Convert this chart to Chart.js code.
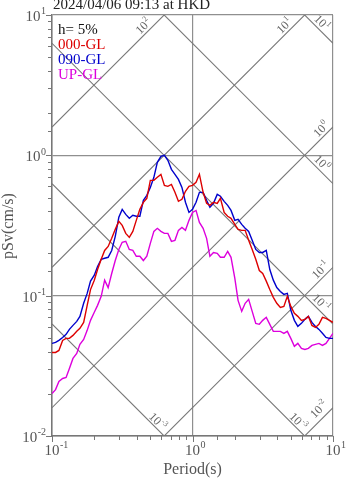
<!DOCTYPE html>
<html>
<head>
<meta charset="utf-8">
<title>pSv spectrum - HKD</title>
<script src="https://cdn.jsdelivr.net/npm/chart.js@4.4.1/dist/chart.umd.min.js"></script>
<style>
  html, body { margin: 0; padding: 0; background: #fff; }
  canvas { display: block; }
</style>
</head>
<body>
<canvas id="spec" width="347" height="478"></canvas>
<script>
const titleText = '2024/04/06 09:13 at HKD';
const dampingLabel = 'h= 5%';
const seriesNames = ['000-GL', '090-GL', 'UP-GL'];
const seriesColors = ['#dd0000', '#0000cc', '#dd00dd'];

// periods (s), 0.025-decade spacing
const periods = [
  0.1, 0.106, 0.112, 0.119, 0.126, 0.133, 0.141, 0.15, 0.158, 0.168,
  0.178, 0.188, 0.2, 0.211, 0.224, 0.237, 0.251, 0.266, 0.282, 0.299,
  0.316, 0.335, 0.355, 0.376, 0.398, 0.422, 0.447, 0.473, 0.501, 0.531,
  0.562, 0.596, 0.631, 0.668, 0.708, 0.75, 0.794, 0.841, 0.891, 0.944,
  1.0, 1.06, 1.12, 1.19, 1.26, 1.33, 1.41, 1.5, 1.58, 1.68,
  1.78, 1.88, 2.0, 2.11, 2.24, 2.37, 2.51, 2.66, 2.82, 2.99,
  3.16, 3.35, 3.55, 3.76, 3.98, 4.22, 4.47, 4.73, 5.01, 5.31,
  5.62, 5.96, 6.31, 6.68, 7.08, 7.5, 7.94, 8.41, 8.91, 9.44,
  10.0
];

// pseudo velocity response, cm/s
const sv000 = [
  0.0394, 0.0394, 0.0407, 0.0480, 0.0496, 0.0496, 0.0521, 0.0557, 0.0585, 0.0645,
  0.0853, 0.1105, 0.129, 0.1536, 0.1817, 0.210, 0.2243, 0.2561, 0.2969, 0.3384,
  0.317, 0.278, 0.2603, 0.2872, 0.344, 0.412, 0.4626, 0.494, 0.663, 0.663,
  0.697, 0.732, 0.611, 0.601, 0.621, 0.545, 0.470, 0.486, 0.554, 0.601,
  0.611, 0.642, 0.732, 0.545, 0.455, 0.440, 0.463, 0.455, 0.494, 0.392,
  0.368, 0.356, 0.322, 0.297, 0.292, 0.292, 0.248, 0.2135, 0.1817, 0.151,
  0.1438, 0.1269, 0.1105, 0.0973, 0.0882, 0.0825, 0.0839, 0.0989, 0.0839, 0.0748,
  0.0712, 0.0667, 0.0678, 0.0712, 0.0614, 0.0594, 0.0625, 0.0701, 0.0689, 0.0667,
  0.0645
];
const sv090 = [
  0.0457, 0.0464, 0.0480, 0.0504, 0.0530, 0.0575, 0.0614, 0.0656, 0.0712, 0.0882,
  0.1038, 0.1269, 0.140, 0.1613, 0.1817, 0.1847, 0.1877, 0.210, 0.2646, 0.3619,
  0.412, 0.3793, 0.356, 0.374, 0.368, 0.368, 0.478, 0.519, 0.591, 0.697,
  0.891, 0.984, 1.000, 0.921, 0.795, 0.732, 0.674, 0.591, 0.463, 0.392,
  0.412, 0.463, 0.545, 0.545, 0.478, 0.426, 0.455, 0.527, 0.511, 0.470,
  0.440, 0.405, 0.344, 0.350, 0.322, 0.302, 0.287, 0.248, 0.2135, 0.2032,
  0.2032, 0.210, 0.1536, 0.129, 0.1142, 0.1072, 0.1021, 0.1038, 0.0786, 0.0667,
  0.0604, 0.0635, 0.0678, 0.0712, 0.0645, 0.0604, 0.0575, 0.0539, 0.0504, 0.0496,
  0.0496
];
const svUp = [
  0.0201, 0.0214, 0.0245, 0.0257, 0.0261, 0.0303, 0.0357, 0.0387, 0.0450, 0.0488,
  0.0566, 0.0667, 0.0761, 0.0853, 0.0989, 0.129, 0.1142, 0.1438, 0.178, 0.2135,
  0.240, 0.244, 0.2135, 0.210, 0.1908, 0.1908, 0.178, 0.1908, 0.236, 0.2872,
  0.302, 0.2872, 0.278, 0.278, 0.244, 0.248, 0.292, 0.3068, 0.292, 0.344,
  0.392, 0.405, 0.333, 0.302, 0.256, 0.1908, 0.2032, 0.200, 0.1877, 0.1877,
  0.2066, 0.1877, 0.1333, 0.0926, 0.0773, 0.0882, 0.0941, 0.0773, 0.0635, 0.0625,
  0.0667, 0.0701, 0.0625, 0.0557, 0.0557, 0.0557, 0.0539, 0.0557, 0.0496, 0.0435,
  0.0457, 0.0421, 0.0414, 0.0421, 0.0442, 0.0450, 0.0457, 0.0442, 0.0457, 0.0496,
  0.0539
];
const seriesValues = [sv000, sv090, svUp];

// tripartite guide lines: acceleration (rising) and displacement (falling)
const accelLines = [0.01, 0.1, 1, 10, 100];
const dispLines = [0.001, 0.01, 0.1, 1, 10];
const guideLabels = [
  { kind: 'acc', value: 100, at: 0.482, exp: '2', off: 7 },
  { kind: 'acc', value: 10, at: 4.86, exp: '1', off: 7 },
  { kind: 'disp', value: 10, at: 7.69, exp: '1', off: 7 },
  { kind: 'acc', value: 1, at: 8.9, exp: '0', off: 7 },
  { kind: 'disp', value: 1, at: 7.69, exp: '0', off: 7 },
  { kind: 'acc', value: 0.1, at: 8.8, exp: '-1', off: 7 },
  { kind: 'disp', value: 0.1, at: 7.6, exp: '-1', off: 7 },
  { kind: 'disp', value: 0.001, at: 0.527, exp: '-3', off: 6 },
  { kind: 'disp', value: 0.01, at: 5.27, exp: '-3', off: 6 },
  { kind: 'acc', value: 0.01, at: 8.77, exp: '-2', off: 9 }
];

const xTickVals = [0.1, 1, 10];
const xTickExps = ['-1', '0', '1'];
const yTickVals = [0.01, 0.1, 1, 10];
const yTickExps = ['-2', '-1', '0', '1'];

const FONT = '"Liberation Serif", "DejaVu Serif", serif';
const TWO_PI = 2 * Math.PI;

function isDecade(v) {
  const l = Math.log10(v);
  return Math.abs(l - Math.round(l)) < 1e-6;
}

function guideFn(kind, v) {
  return kind === 'acc' ? t => v * t / TWO_PI : t => TWO_PI * v / t;
}

// "10" with a raised exponent
function drawPow(ctx, exp, x, y, size, align) {
  const big = size + 'px ' + FONT;
  const small = Math.round(size * 0.68) + 'px ' + FONT;
  ctx.font = big;
  const w1 = ctx.measureText('10').width;
  ctx.font = small;
  const w2 = ctx.measureText(exp).width;
  let x0 = x;
  if (align === 'right') x0 = x - w1 - w2 - 0.5;
  else if (align === 'center10') x0 = x - w1 / 2;
  else if (align === 'center') x0 = x - (w1 + w2) / 2;
  ctx.textAlign = 'left';
  ctx.textBaseline = 'alphabetic';
  ctx.font = big;
  ctx.fillText('10', x0, y);
  ctx.font = small;
  ctx.fillText(exp, x0 + w1 + 0.5, y - size * 0.45);
}

const spectrumDecor = {
  id: 'spectrumDecor',
  beforeDatasetsDraw(chart) {
    const { ctx, chartArea: a, scales: { x, y } } = chart;
    ctx.save();
    ctx.beginPath();
    ctx.rect(a.left, a.top, a.right - a.left, a.bottom - a.top);
    ctx.clip();
    ctx.strokeStyle = '#777';
    ctx.lineWidth = 1.1;
    const draw = f => {
      ctx.beginPath();
      ctx.moveTo(x.getPixelForValue(0.1), y.getPixelForValue(f(0.1)));
      ctx.lineTo(x.getPixelForValue(10), y.getPixelForValue(f(10)));
      ctx.stroke();
    };
    accelLines.forEach(v => draw(guideFn('acc', v)));
    dispLines.forEach(v => draw(guideFn('disp', v)));
    ctx.restore();

    ctx.save();
    ctx.fillStyle = '#666';
    guideLabels.forEach(g => {
      const f = guideFn(g.kind, g.value);
      const px = x.getPixelForValue(g.at);
      const py = y.getPixelForValue(f(g.at));
      const k = g.off / Math.SQRT2;
      const cx = g.kind === 'acc' ? px - k : px + k;
      const cy = py - k;
      ctx.save();
      ctx.translate(cx, cy);
      ctx.rotate(g.kind === 'acc' ? -Math.PI / 4 : Math.PI / 4);
      drawPow(ctx, g.exp, 0, 4, 12, 'center');
      ctx.restore();
    });
    ctx.restore();
  },
  afterDraw(chart) {
    const { ctx, chartArea: a, scales: { x, y } } = chart;
    ctx.save();
    // tick marks
    ctx.strokeStyle = '#777';
    ctx.lineWidth = 1;
    x.ticks.forEach(t => {
      const px = Math.round(x.getPixelForValue(t.value)) + 0.5;
      const len = isDecade(t.value) ? 6 : 4;
      ctx.beginPath();
      ctx.moveTo(px, a.bottom);
      ctx.lineTo(px, a.bottom + len);
      ctx.stroke();
    });
    y.ticks.forEach(t => {
      const py = Math.round(y.getPixelForValue(t.value)) + 0.5;
      const len = isDecade(t.value) ? 6 : 4;
      ctx.beginPath();
      ctx.moveTo(a.left, py);
      ctx.lineTo(a.left - len, py);
      ctx.stroke();
    });

    // tick labels
    ctx.fillStyle = '#555';
    xTickVals.forEach((v, i) => drawPow(ctx, xTickExps[i], x.getPixelForValue(v), a.bottom + 19, 15, 'center10'));
    yTickVals.forEach((v, i) => drawPow(ctx, yTickExps[i], a.left - 6, y.getPixelForValue(v) + 6, 15, 'right'));

    // axis titles
    ctx.font = '16px ' + FONT;
    ctx.textAlign = 'center';
    ctx.textBaseline = 'alphabetic';
    ctx.fillText('Period(s)', (a.left + a.right) / 2, 474);
    ctx.save();
    ctx.translate(13, 226);
    ctx.rotate(-Math.PI / 2);
    ctx.fillText('pSv(cm/s)', 0, 0);
    ctx.restore();

    // title
    ctx.font = '15px ' + FONT;
    ctx.textAlign = 'left';
    ctx.fillStyle = '#222';
    ctx.fillText(titleText, 53, 9);

    // legend block
    ctx.fillStyle = '#111';
    ctx.fillText(dampingLabel, 58, 34);
    seriesNames.forEach((name, i) => {
      ctx.fillStyle = seriesColors[i];
      ctx.fillText(name, 58, 49 + i * 15);
    });
    ctx.restore();
  }
};

const gridColor = c => isDecade(c.tick.value) ? '#8f8f8f' : 'rgba(0,0,0,0)';

new Chart(document.getElementById('spec').getContext('2d'), {
  type: 'line',
  data: {
    datasets: seriesNames.map((name, i) => ({
      label: name,
      data: periods.map((t, j) => ({ x: t, y: seriesValues[i][j] })),
      borderColor: seriesColors[i],
      borderWidth: 1.4,
      pointRadius: 0,
      fill: false,
      tension: 0
    }))
  },
  options: {
    responsive: false,
    animation: false,
    events: [],
    layout: { padding: { left: 52, right: 14, top: 15, bottom: 42 } },
    plugins: { legend: { display: false }, tooltip: { enabled: false } },
    scales: {
      x: {
        type: 'logarithmic', min: 0.1, max: 10,
        ticks: { display: false },
        grid: { drawTicks: false, color: gridColor, lineWidth: 1.2 },
        border: { display: true, color: '#777', width: 1.5 },
        afterFit: s => { s.height = 0; }
      },
      y: {
        type: 'logarithmic', min: 0.01, max: 10,
        ticks: { display: false },
        grid: { drawTicks: false, color: gridColor, lineWidth: 1.2 },
        border: { display: true, color: '#777', width: 1.5 },
        afterFit: s => { s.width = 0; }
      }
    }
  },
  plugins: [spectrumDecor]
});
</script>
</body>
</html>
